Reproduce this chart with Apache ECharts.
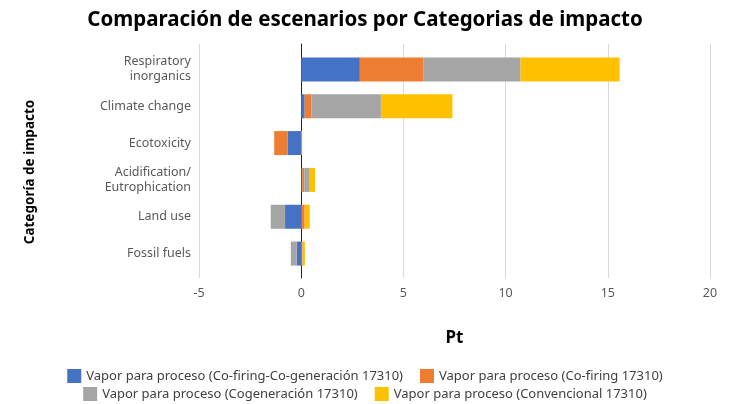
<!DOCTYPE html>
<html lang="es">
<head>
<meta charset="UTF-8">
<title>Comparación de escenarios por Categorias de impacto</title>
<script src="https://cdn.jsdelivr.net/npm/echarts@6.0.0/dist/echarts.min.js"></script>
<style>html,body{margin:0;padding:0;background:#fff;}</style>
</head>
<body>
<div id="main" style="width:730px;height:404px;"></div>
<script>
// categorias de impacto (de arriba a abajo)
var categorias = ['Respiratory\ninorganics', 'Climate change', 'Ecotoxicity',
	'Acidification/\nEutrophication', 'Land use', 'Fossil fuels'];

// valores en Pt por escenario
var coFiringCoGen = [2.87, 0.17, -0.67, 0.05, -0.79, -0.22];
var coFiring = [3.10, 0.33, -0.65, 0.10, 0.17, 0.07];
var cogeneracion = [4.76, 3.40, 0, 0.23, -0.70, -0.29];
var convencional = [4.85, 3.50, 0.05, 0.30, 0.25, 0.11];

var nombres = [
	'Vapor para proceso (Co-firing-Co-generación 17310)',
	'Vapor para proceso (Co-firing 17310)',
	'Vapor para proceso (Cogeneración 17310)',
	'Vapor para proceso (Convencional 17310)'
];
var colores = ['#4472C4', '#ED7D31', '#A5A5A5', '#FFC000'];
var ejeX = { min: -5, max: 20, interval: 5 };

var font = '"Noto Sans", sans-serif';
var chart = echarts.init(document.getElementById('main'));

function serie(i, data) {
	return {
		name: nombres[i],
		type: 'bar',
		stack: 'total',
		xAxisIndex: 1,
		yAxisIndex: 1,
		barWidth: 24,
		itemStyle: { color: colores[i] },
		data: data
	};
}

var legendStyle = { fontFamily: font, fontSize: 13, color: '#404040' };

chart.setOption({
	animation: false,
	textStyle: { fontFamily: font },
	title: {
		text: 'Comparación de escenarios por Categorias de impacto',
		left: 'center',
		top: 5,
		textStyle: { fontFamily: font, fontSize: 20.5, fontWeight: 'bold', color: '#000' }
	},
	legend: [
		{ data: [nombres[0], nombres[1]], top: 364, left: 'center', itemWidth: 14, itemHeight: 14, itemGap: 17, icon: 'rect', textStyle: legendStyle },
		{ data: [nombres[2], nombres[3]], top: 382, left: 'center', itemWidth: 14, itemHeight: 14, itemGap: 17, icon: 'rect', textStyle: legendStyle }
	],
	graphic: [{
		type: 'text',
		x: 30,
		y: 172,
		rotation: Math.PI / 2,
		style: {
			text: 'Categoría de impacto',
			font: 'bold 13.5px ' + font,
			fill: '#000',
			align: 'center',
			verticalAlign: 'middle'
		}
	}],
	grid: [
		{ left: 199, right: 20, top: 44, height: 234 },
		{ left: 199, right: 20, top: 51, height: 221 }
	],
	xAxis: [
		{
			type: 'value', gridIndex: 0, min: ejeX.min, max: ejeX.max, interval: ejeX.interval,
			name: 'Pt', nameLocation: 'middle', nameGap: 52,
			nameTextStyle: { fontFamily: font, fontSize: 17, fontWeight: 'bold', color: '#000' },
			axisLine: { show: false }, axisTick: { show: false },
			axisLabel: { color: '#595959', fontSize: 12.5, margin: 9 },
			splitLine: { lineStyle: { color: '#D9D9D9' } }
		},
		{
			type: 'value', gridIndex: 1, min: ejeX.min, max: ejeX.max, interval: ejeX.interval,
			show: false, splitLine: { show: false }
		}
	],
	yAxis: [
		{
			type: 'value', gridIndex: 0, min: 0, max: 1,
			axisLine: { show: true, onZero: true, lineStyle: { color: '#262626', width: 1 } },
			axisTick: { show: false }, axisLabel: { show: false }, splitLine: { show: false }
		},
		{
			type: 'category', gridIndex: 1, data: categorias, inverse: true,
			axisLine: { show: false, onZero: false }, axisTick: { show: false },
			axisLabel: { color: '#595959', fontSize: 12.5, lineHeight: 15, margin: 8 }
		}
	],
	series: [
		serie(0, coFiringCoGen),
		serie(1, coFiring),
		serie(2, cogeneracion),
		serie(3, convencional)
	]
});
</script>
</body>
</html>
